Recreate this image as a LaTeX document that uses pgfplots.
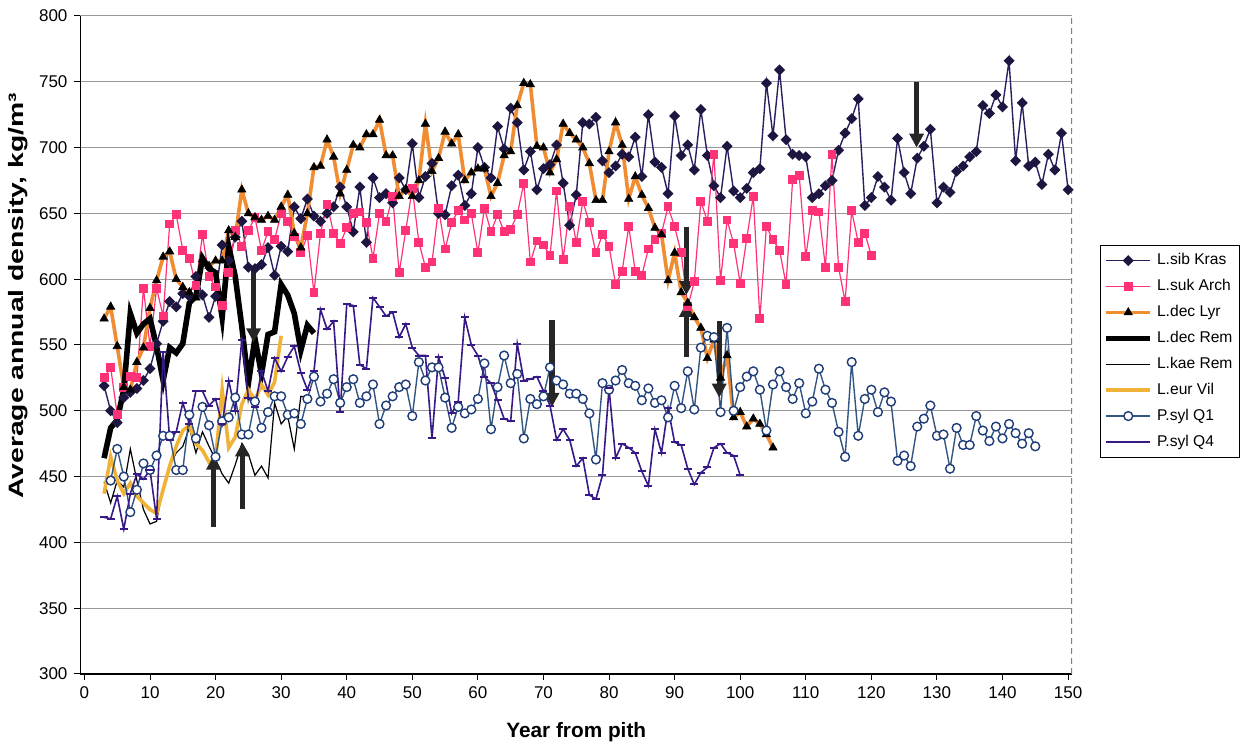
\documentclass[border=0pt]{standalone}
\usepackage{fontspec}
\setmainfont{Liberation Sans}
\usepackage{pgfplots}
\pgfplotsset{compat=1.18}
\usetikzlibrary{arrows.meta}
\definecolor{sibl}{RGB}{45,30,95}
\definecolor{sibm}{RGB}{30,22,65}
\definecolor{sukc}{RGB}{255,50,120}
\definecolor{lyrc}{RGB}{240,140,50}
\definecolor{vilc}{RGB}{240,178,55}
\definecolor{qonel}{RGB}{50,85,130}
\definecolor{qonem}{RGB}{30,60,120}
\definecolor{qfour}{RGB}{55,25,135}
\begin{document}
\begin{tikzpicture}
\useasboundingbox (-40.25pt,-36.5pt) rectangle (580.75pt,337pt);
\begin{axis}[
 width=495.75pt, height=329pt, scale only axis,
 xmin=-0.6, xmax=150.6, ymin=300, ymax=800,
 xtick={0,10,...,150}, ytick={300,350,...,800},
 axis lines*=left,
 ymajorgrids, grid style={black!40, line width=0.5pt},
 tick align=outside, major tick length=3pt,
 tick style={black, line width=0.5pt},
 axis line style={black, line width=0.6pt},
 ticklabel style={font=\fontsize{8.5}{10}\selectfont},
 /pgf/number format/assume math mode=true,
 xlabel={Year from pith}, ylabel={\scalebox{1.36}[1]{Average annual density, kg/m³}},
 label style={font=\bfseries\fontsize{10.4}{12}\selectfont},
 xlabel style={at={(axis description cs:0.5,-0.073)}, anchor=north, inner sep=0pt},
 ylabel style={at={(axis description cs:-0.0524,0.5745)}, anchor=south, inner sep=0pt},
 legend style={at={(axis description cs:1.0282,0.652)}, anchor=north west,
   draw=black, line width=0.5pt, font=\fontsize{7.8}{9}\selectfont,
   row sep=1.8pt, inner xsep=1.5pt, inner ysep=2pt},
 legend cell align=left,
 legend image code/.code={\draw[mark repeat=2,mark phase=2,#1] plot coordinates {(0pt,0pt) (11pt,0pt) (22pt,0pt)};},
]
\addplot[sibl, line width=0.7pt, mark=square*, mark size=1.6pt, mark options={solid, rotate=45, fill=sibm, draw=sibm}] coordinates {
(3,519)(4,500)(5,491)(6,510)(7,514)(8,517)(9,523)(10,532)(11,551)(12,568)(13,583)(14,579)(15,589)(16,587)(17,602)(18,588)(19,571)(20,587)(21,626)(22,614)(23,632)(24,644)(25,609)(26,608)(27,611)(28,624)(29,603)(30,625)(31,621)(32,655)(33,646)(34,661)(35,648)(36,644)(37,650)(38,655)(39,670)(40,655)(41,636)(42,670)(43,628)(44,677)(45,662)(46,665)(47,658)(48,677)(49,668)(50,703)(51,662)(52,678)(53,688)(54,650)(55,649)(56,671)(57,679)(58,656)(59,665)(60,700)(61,685)(62,677)(63,716)(64,699)(65,730)(66,719)(67,683)(68,697)(69,668)(70,684)(71,687)(72,702)(73,673)(74,641)(75,664)(76,719)(77,718)(78,723)(79,690)(80,681)(81,686)(82,695)(83,693)(84,708)(85,678)(86,725)(87,689)(88,685)(89,665)(90,724)(91,694)(92,702)(93,683)(94,729)(95,694)(96,671)(97,662)(98,701)(99,667)(100,662)(101,669)(102,681)(103,684)(104,749)(105,709)(106,759)(107,706)(108,695)(109,694)(110,693)(111,662)(112,665)(113,671)(114,675)(115,698)(116,711)(117,722)(118,737)(119,656)(120,662)(121,678)(122,670)(123,660)(124,707)(125,681)(126,665)(127,692)(128,701)(129,714)(130,658)(131,670)(132,666)(133,682)(134,686)(135,693)(136,697)(137,732)(138,726)(139,740)(140,731)(141,766)(142,690)(143,734)(144,686)(145,689)(146,672)(147,695)(148,683)(149,711)(150,668)};
\addlegendentry{L.sib Kras}
\addplot[sukc, line width=0.6pt, mark=square*, mark size=1.9pt, mark options={solid, fill=sukc, draw=sukc}] coordinates {
(3,525)(4,533)(5,497)(6,518)(7,526)(8,525)(9,593)(10,549)(11,593)(12,572)(13,642)(14,649)(15,622)(16,616)(17,595)(18,634)(19,602)(20,594)(21,580)(22,605)(23,637)(24,625)(25,637)(26,647)(27,622)(28,636)(29,630)(30,650)(31,644)(32,632)(33,620)(34,633)(35,590)(36,635)(37,657)(38,635)(39,627)(40,639)(41,650)(42,651)(43,643)(44,616)(45,650)(46,644)(47,663)(48,605)(49,637)(50,669)(51,628)(52,609)(53,613)(54,654)(55,623)(56,643)(57,652)(58,645)(59,650)(60,620)(61,654)(62,636)(63,649)(64,636)(65,638)(66,649)(67,673)(68,613)(69,629)(70,626)(71,618)(72,667)(73,615)(74,655)(75,628)(76,659)(77,643)(78,620)(79,634)(80,625)(81,596)(82,606)(83,640)(84,606)(85,603)(86,623)(87,630)(88,635)(89,655)(90,640)(91,620)(92,579)(93,598)(94,659)(95,644)(96,695)(97,599)(98,645)(99,627)(100,597)(101,631)(102,663)(103,570)(104,640)(105,630)(106,622)(107,596)(108,676)(109,679)(110,617)(111,652)(112,651)(113,609)(114,695)(115,609)(116,583)(117,652)(118,628)(119,635)(120,618)};
\addlegendentry{L.suk Arch}
\addplot[lyrc, line width=1.8pt, mark=triangle*, mark size=2.4pt, mark options={solid, fill=black, draw=black, line width=0.3pt}] coordinates {
(3,570)(4,579)(5,549)(6,518)(7,516)(8,537)(9,548)(10,578)(11,599)(12,617)(13,621)(14,600)(15,594)(16,590)(17,586)(18,615)(19,610)(20,614)(21,614)(22,637)(23,632)(24,668)(25,650)(26,647)(27,645)(28,648)(29,645)(30,655)(31,664)(32,635)(33,624)(34,650)(35,685)(36,686)(37,706)(38,693)(39,665)(40,683)(41,702)(42,700)(43,710)(44,710)(45,721)(46,694)(47,694)(48,663)(49,668)(50,663)(51,675)(52,718)(53,682)(54,692)(55,712)(56,703)(57,710)(58,675)(59,681)(60,684)(61,684)(62,663)(63,673)(64,694)(65,697)(66,732)(67,749)(68,748)(69,701)(70,700)(71,681)(72,691)(73,718)(74,711)(75,706)(76,700)(77,688)(78,660)(79,660)(80,697)(81,719)(82,702)(83,661)(84,678)(85,664)(86,654)(87,639)(88,634)(89,599)(90,620)(91,590)(92,582)(93,571)(94,563)(95,540)(96,554)(97,525)(98,542)(99,495)(100,499)(101,488)(102,494)(103,490)(104,482)(105,472)};
\addlegendentry{L.dec Lyr}
\addplot[black, line width=2.8pt] coordinates {
(3,464)(4,487)(5,493)(6,516)(7,574)(8,559)(9,566)(10,570)(11,549)(12,523)(13,548)(14,544)(15,551)(16,582)(17,587)(18,616)(19,608)(20,605)(21,571)(22,625)(23,602)(24,564)(25,521)(26,555)(27,528)(28,558)(29,560)(30,596)(31,588)(32,574)(33,546)(34,565)(35,559)};
\addlegendentry{L.dec Rem}
\addplot[black, line width=0.6pt] coordinates {
(3,446)(4,430)(5,447)(6,442)(7,471)(8,447)(9,425)(10,414)(11,416)(12,442)(13,458)(14,468)(15,473)(16,487)(17,468)(18,484)(19,473)(20,463)(21,452)(22,445)(23,459)(24,475)(25,467)(26,451)(27,458)(28,449)(29,506)(30,490)(31,496)(32,471)(33,511)(34,510)};
\addlegendentry{L.kae Rem}
\addplot[vilc, line width=1.8pt] coordinates {
(3,437)(4,465)(5,447)(6,437)(7,445)(8,435)(9,430)(10,425)(11,422)(12,440)(13,458)(14,473)(15,485)(16,489)(17,475)(18,470)(19,461)(20,463)(21,516)(22,472)(23,480)(24,505)(25,516)(26,508)(27,520)(28,512)(29,522)(30,557)};
\addlegendentry{L.eur Vil}
\addplot[qonel, line width=0.7pt, mark=*, mark size=2.2pt, mark options={solid, fill=white, draw=qonem, line width=0.7pt}] coordinates {
(4,447)(5,471)(6,450)(7,423)(8,440)(9,460)(10,455)(11,466)(12,481)(13,481)(14,455)(15,455)(16,497)(17,479)(18,503)(19,489)(20,465)(21,492)(22,495)(23,510)(24,482)(25,482)(26,507)(27,487)(28,499)(29,511)(30,511)(31,497)(32,498)(33,490)(34,509)(35,526)(36,507)(37,513)(38,524)(39,506)(40,518)(41,524)(42,506)(43,511)(44,520)(45,490)(46,504)(47,511)(48,518)(49,520)(50,496)(51,537)(52,523)(53,533)(54,533)(55,510)(56,487)(57,503)(58,498)(59,501)(60,509)(61,536)(62,486)(63,518)(64,542)(65,521)(66,528)(67,479)(68,509)(69,505)(70,511)(71,533)(72,523)(73,520)(74,513)(75,513)(76,509)(77,498)(78,463)(79,521)(80,516)(81,523)(82,531)(83,521)(84,519)(85,508)(86,517)(87,506)(88,508)(89,495)(90,519)(91,502)(92,530)(93,501)(94,548)(95,557)(96,556)(97,499)(98,563)(99,500)(100,518)(101,526)(102,530)(103,516)(104,485)(105,520)(106,530)(107,518)(108,509)(109,521)(110,498)(111,507)(112,532)(113,516)(114,506)(115,484)(116,465)(117,537)(118,481)(119,509)(120,516)(121,499)(122,514)(123,507)(124,462)(125,466)(126,458)(127,488)(128,494)(129,504)(130,481)(131,482)(132,456)(133,487)(134,474)(135,474)(136,496)(137,485)(138,477)(139,488)(140,479)(141,490)(142,483)(143,475)(144,483)(145,473)};
\addlegendentry{P.syl Q1}
\addplot[qfour, line width=0.8pt, mark=-, mark size=2pt, mark options={solid, line width=1pt}] coordinates {
(3,419)(4,418)(5,435)(6,410)(7,437)(8,452)(9,448)(10,455)(11,418)(12,545)(13,478)(14,484)(15,506)(16,490)(17,515)(18,515)(19,504)(20,509)(21,490)(22,523)(23,500)(24,554)(25,510)(26,503)(27,530)(28,515)(29,540)(30,530)(31,541)(32,549)(33,529)(34,516)(35,530)(36,577)(37,562)(38,568)(39,499)(40,581)(41,580)(42,535)(43,532)(44,586)(45,579)(46,572)(47,575)(48,556)(49,566)(50,548)(51,542)(52,542)(53,479)(54,541)(55,525)(56,498)(57,507)(58,571)(59,550)(60,542)(61,526)(62,521)(63,508)(64,494)(65,492)(66,551)(67,523)(68,524)(69,526)(70,515)(71,504)(72,478)(73,486)(74,478)(75,458)(76,464)(77,436)(78,433)(79,451)(80,517)(81,464)(82,475)(83,472)(84,468)(85,454)(86,443)(87,486)(88,468)(89,502)(90,476)(91,474)(92,456)(93,444)(94,453)(95,457)(96,472)(97,475)(98,468)(99,466)(100,451)};
\addlegendentry{P.syl Q4}
\draw[black!50, densely dashed, line width=0.6pt] (rel axis cs:1,0) -- (rel axis cs:1,1);
\tikzset{arr/.style={line width=2.6pt, black!85, -{Triangle[length=7pt,width=7pt]}}}
\draw[arr] (axis cs:19.7,412) -- (axis cs:19.7,466);
\draw[arr] (axis cs:24.1,425) -- (axis cs:24.1,476);
\draw[arr] (axis cs:25.8,607) -- (axis cs:25.8,552);
\draw[arr] (axis cs:71.3,569) -- (axis cs:71.3,503);
\draw[arr] (axis cs:91.8,640) -- (axis cs:91.8,588);
\draw[arr] (axis cs:91.8,541) -- (axis cs:91.8,582);
\draw[arr] (axis cs:96.8,568) -- (axis cs:96.8,510);
\draw[arr] (axis cs:126.9,750) -- (axis cs:126.9,700);
\end{axis}
\end{tikzpicture}
\end{document}
